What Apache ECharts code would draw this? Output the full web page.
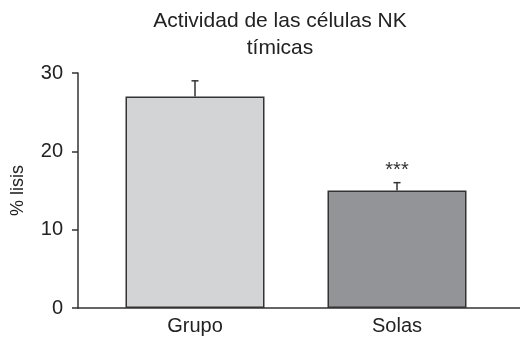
<!DOCTYPE html>
<html><head><meta charset="utf-8">
<script src="https://cdn.jsdelivr.net/npm/echarts@6/dist/echarts.min.js"></script>
<style>html,body{margin:0;padding:0;background:#fff}#c{width:520px;height:339px}</style>
</head><body><div id="c"></div>
<script>
const categories = ['Grupo', 'Solas'];
const values = [27, 15];
const errors = [2, 1];
const significance = ['', '***'];
const barColors = ['#d3d4d6', '#939497'];
const yTicks = [0, 10, 20, 30];

const chart = echarts.init(document.getElementById('c'));
const font = 'Liberation Sans, Arial, sans-serif';
chart.setOption({
  animation: false,
  title: {
    text: 'Actividad de las células NK\ntímicas',
    left: 275, top: 3, textAlign: 'center',
    textStyle: { fontFamily: font, fontSize: 21, fontWeight: 'normal', color: '#222', lineHeight: 27 }
  },
  grid: [
    { left: 94, right: 22, top: 73, bottom: 31 },
    { left: 78, right: 0, top: 73, bottom: 31 }
  ],
  xAxis: [
    { type: 'category', gridIndex: 0, data: categories,
      axisLine: { show: false }, axisTick: { show: false },
      axisLabel: { fontFamily: font, fontSize: 20, color: '#222', margin: 8 } },
    { type: 'value', gridIndex: 1, min: 0, max: 1,
      axisLine: { show: true, onZero: false, lineStyle: { color: '#333', width: 1.5 } },
      axisTick: { show: false }, axisLabel: { show: false }, splitLine: { show: false } }
  ],
  yAxis: [
    { type: 'value', gridIndex: 0, min: 0, max: 30, interval: 10, show: false, splitLine: { show: false } },
    { type: 'value', gridIndex: 1, min: yTicks[0], max: yTicks[yTicks.length - 1], interval: 10,
      name: '% lisis', nameLocation: 'middle', nameGap: 51, nameRotate: 90,
      nameTextStyle: { fontFamily: font, fontSize: 18, color: '#222' },
      axisLine: { show: true, lineStyle: { color: '#333', width: 1.5 } },
      axisTick: { show: true, length: 6, lineStyle: { color: '#333', width: 1.5 } },
      axisLabel: { fontFamily: font, fontSize: 20, color: '#222', margin: 15 },
      splitLine: { show: false } }
  ],
  series: [
    { type: 'bar', xAxisIndex: 0, yAxisIndex: 0, barWidth: 139,
      data: values.map((v, i) => ({ value: v, itemStyle: { color: barColors[i] } })),
      itemStyle: { borderColor: '#333', borderWidth: 1.5 } },
    { type: 'custom', xAxisIndex: 0, yAxisIndex: 0, z: 1,
      data: values.map((v, i) => [i, v, v + errors[i], significance[i]]),
      renderItem: function (params, api) {
        const base = api.coord([api.value(0), api.value(1)]);
        const top = api.coord([api.value(0), api.value(2)]);
        const cw = 3.5;
        const st = { stroke: '#333', lineWidth: 1.5 };
        const children = [
          { type: 'line', shape: { x1: base[0], y1: base[1], x2: top[0], y2: top[1] }, style: st },
          { type: 'line', shape: { x1: top[0] - cw, y1: top[1], x2: top[0] + cw, y2: top[1] }, style: st }
        ];
        const sig = api.value(3);
        if (sig) {
          children.push({ type: 'text', style: { text: sig, x: top[0], y: top[1] - 2,
            textAlign: 'center', textVerticalAlign: 'bottom', fill: '#333', fontSize: 20, fontFamily: font } });
        }
        return { type: 'group', children: children };
      } }
  ]
});
</script></body></html>
